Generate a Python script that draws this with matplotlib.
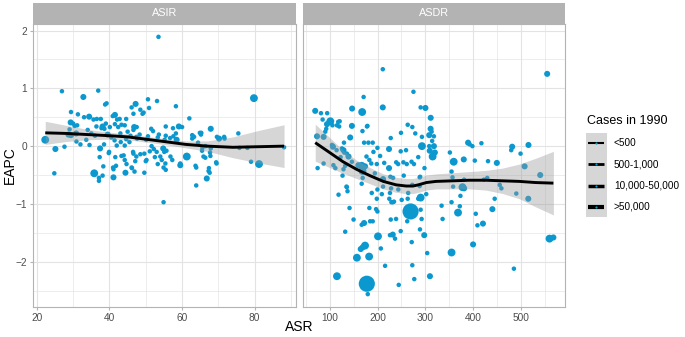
import matplotlib
matplotlib.use("Agg")
import matplotlib.pyplot as plt
from matplotlib.patches import Rectangle

plt.rcParams["font.family"] = ["Liberation Sans", "DejaVu Sans"]

# ---- data (x = ASR, y = EAPC, s = size class) ----
asir_x = [53.5, 26.9, 36.9, 32.8, 50.6, 53.1, 79.8, 38.8, 39.2, 58.3, 47.2, 46.1, 48.5, 49.4, 50.9,
          29.4, 31.3, 41.5, 46.6, 49.1, 62.0, 33.0, 34.4, 35.6, 36.5, 37.6, 40.9, 42.1, 42.8, 44.6,
          29.3, 30.0, 30.4, 31.1, 39.0, 38.1, 38.6, 40.1, 41.5, 42.4, 43.3, 44.2, 36.4, 37.8, 46.8,
          47.5, 46.6, 55.5, 57.5, 59.1, 60.0, 67.9, 75.5, 64.9, 65.2, 62.8, 63.3, 62.8, 69.6, 70.2,
          71.6, 58.3, 57.6, 56.7, 58.5, 55.5, 55.2, 53.6, 53.3, 50.6, 50.1, 48.3, 47.4, 47.6, 29.0,
          28.7, 29.4, 30.8, 22.3, 25.1, 27.6, 32.0, 30.9, 34.5, 33.6, 37.4, 38.5, 42.0, 43.1, 41.4,
          44.6, 45.5, 44.2, 51.6, 52.2, 53.0, 54.8, 55.7, 61.3, 65.6, 66.5, 67.9, 67.7, 75.8, 78.0,
          79.0, 81.2, 88.1, 37.3, 39.8, 43.9, 41.6, 46.6, 48.5, 49.6, 54.0, 54.4, 56.8, 57.3, 59.5,
          65.9, 69.4, 63.7, 24.8, 35.8, 37.1, 37.1, 38.1, 41.1, 41.1, 41.8, 44.4, 44.7, 46.2, 46.9,
          49.6, 47.1, 50.0, 53.3, 54.9, 55.5, 55.4, 54.9, 59.5, 63.9, 63.9, 66.8, 67.4, 67.6, 69.5,
          67.3, 66.4, 67.8, 65.5, 65.3, 63.0, 64.4, 71.7, 35.0, 36.0, 39.5, 40.5, 43.0, 45.0, 34.0,
          52.0, 51.5, 45.8, 38.3, 39.9, 41.0, 43.3, 44.2, 46.1, 46.5, 47.4, 50.2, 51.1, 52.5, 55.1]
asir_y = [1.89, 0.95, 0.96, 0.85, 0.81, 0.78, 0.83, 0.72, 0.74, 0.69, 0.73, 0.67, 0.63, 0.58, 0.66,
          0.59, 0.55, 0.54, 0.56, 0.56, 0.48, 0.50, 0.51, 0.46, 0.47, 0.47, 0.52, 0.46, 0.47, 0.47,
          0.41, 0.39, 0.35, 0.36, 0.39, 0.34, 0.30, 0.33, 0.38, 0.33, 0.37, 0.36, 0.34, 0.31, 0.33,
          0.33, 0.28, 0.34, 0.31, 0.34, 0.33, 0.30, 0.22, 0.23, 0.20, 0.19, 0.16, 0.13, 0.16, 0.13,
          0.16, 0.22, 0.17, 0.14, 0.11, 0.18, 0.11, 0.20, 0.15, 0.17, 0.11, 0.20, 0.16, 0.13, 0.29,
          0.20, 0.19, 0.22, 0.11, -0.05, -0.01, 0.03, 0.08, 0.02, 0.11, -0.04, 0.03, 0.01, 0.07, 0.10,
          0.12, 0.07, 0.01, 0.00, -0.05, -0.10, -0.04, -0.08, -0.18, -0.03, 0.00, -0.04, -0.11, -0.03, -0.03,
          -0.27, -0.31, -0.02, -0.19, -0.12, -0.16, -0.19, -0.13, -0.14, -0.13, -0.18, -0.24, -0.18, -0.24, -0.30,
          -0.18, -0.28, -0.34, -0.47, -0.47, -0.55, -0.60, -0.51, -0.54, -0.40, -0.34, -0.46, -0.31, -0.38, -0.44,
          -0.46, -0.26, -0.26, -0.31, -0.37, -0.41, -0.30, -0.97, -0.33, -0.37, -0.68, -0.56, -0.38, -0.46, -0.30,
          -0.43, -0.20, -0.17, -0.08, 0.23, 0.17, 0.06, 0.13, 0.22, 0.18, 0.20, 0.15, 0.22, 0.25, 0.28,
          0.26, 0.30, 0.18, -0.35, -0.10, -0.37, -0.17, -0.24, -0.37, -0.10, -0.18, -0.24, -0.09, -0.19, -0.10]
asir_s = [0, 0, 0, 1, 0, 0, 2, 0, 0, 0, 1, 0, 0, 0, 0,
          0, 0, 1, 0, 0, 0, 0, 1, 0, 0, 0, 0, 0, 0, 0,
          1, 0, 0, 0, 0, 1, 0, 0, 0, 0, 0, 0, 0, 0, 1,
          0, 0, 0, 0, 1, 0, 1, 0, 0, 0, 0, 0, 0, 0, 1,
          0, 0, 0, 0, 1, 0, 0, 0, 0, 0, 0, 0, 0, 0, 0,
          1, 1, 1, 2, 1, 0, 0, 0, 0, 0, 1, 0, 0, 0, 0,
          0, 0, 0, 0, 0, 0, 1, 0, 2, 0, 0, 0, 0, 0, 0,
          0, 2, 0, 0, 0, 0, 0, 0, 0, 0, 0, 0, 0, 0, 0,
          0, 0, 0, 0, 2, 0, 0, 0, 1, 0, 0, 1, 0, 0, 0,
          0, 0, 0, 0, 0, 0, 0, 0, 1, 0, 0, 1, 0, 0, 0,
          0, 0, 0, 0, 0, 0, 0, 0, 0, 0, 1, 0, 0, 0, 0,
          0, 0, 0, 0, 0, 0, 0, 0, 0, 0, 0, 0, 0, 0, 0]

asdr_x = [211, 554, 275, 171, 211, 290, 300, 70, 82, 95, 147, 168, 311, 85.5, 101.5,
          94.6, 115.4, 121, 146.6, 179, 168.6, 263, 272.6, 249, 278.8, 310.8, 312.9, 307.9, 317.7, 292.7,
          143, 93, 91, 73.8, 87.5, 227.6, 172, 190, 199.8, 224, 248.4, 259.5, 292.7, 307.9, 317.7,
          309, 319.7, 315, 285, 351, 359, 380, 389, 392.5, 398, 416.8, 403, 430.6, 449, 481,
          479, 498.5, 515, 507, 205.4, 191.5, 129, 125.8, 130.6, 136, 139.5, 146.6, 107, 105, 87.5,
          160, 167, 174, 224, 183, 181, 75, 118, 120, 106, 178, 130, 314, 298, 288,
          177, 114.6, 127, 122.9, 168.6, 127, 135.3, 194.4, 211.6, 226.8, 232.4, 211.6, 254.7, 272.6, 289,
          288, 108, 112, 129, 132.6, 136, 137.4, 118.7, 141.6, 150, 132.6, 115.4, 157, 165, 169,
          174, 182.5, 177.7, 179.7, 167, 172, 184.6, 190, 183, 197, 199.8, 167, 169, 188, 199.8,
          201, 207, 215.8, 227.6, 238.7, 226, 231.8, 236.6, 248.4, 244.3, 226, 234.4, 224.6, 198.5, 209,
          228.3, 243.4, 250.5, 269, 262, 271.4, 272.6, 276.7, 290, 292, 288.6, 297.5, 303.7, 309.4, 285,
          290, 264, 263, 333.7, 335.8, 354.5, 357.8, 356.5, 368, 371.7, 377.3, 354.5, 405, 408.5, 420,
          399.4, 439.7, 444.5, 455, 458.5, 489.6, 514.6, 484.6, 558.9, 567, 539.5, 354.5, 380.7, 380.7, 422,
          429, 373, 301.7, 229, 232, 187, 198.5, 214, 239, 243, 254, 261, 271, 276]
asdr_y = [1.33, 1.25, 0.94, 0.85, 0.67, 0.67, 0.66, 0.61, 0.57, 0.57, 0.65, 0.59, 0.49, 0.46, 0.43,
          0.38, 0.36, 0.43, 0.35, 0.35, 0.26, 0.37, 0.33, 0.23, 0.22, 0.30, 0.25, 0.19, 0.17, 0.16,
          0.15, 0.30, 0.25, 0.17, 0.16, 0.14, 0.06, 0.06, -0.03, -0.05, -0.09, -0.07, 0.00, 0.00, 0.00,
          -0.08, -0.11, -0.18, -0.19, -0.11, -0.27, -0.23, 0.06, 0.03, 0.00, 0.05, -0.25, -0.26, -0.29, -0.01,
          -0.07, -0.13, 0.02, -0.35, -0.17, -0.10, -0.07, -0.04, -0.11, -0.13, -0.18, -0.27, -0.01, 0.02, -0.30,
          -0.33, -0.34, -0.35, -0.38, -0.24, 0.06, -0.38, 0.42, 0.34, 0.36, 0.34, 0.06, 0.09, -0.38, -0.54,
          -0.18, -0.07, -0.06, -0.19, -0.43, -0.51, -0.70, -0.47, -0.57, -0.53, -0.55, -0.70, -0.51, -0.67, -0.53,
          -0.69, -0.33, -0.38, -0.40, -0.34, -0.71, -0.78, -0.84, -1.07, -1.27, -1.48, -2.25, -1.93, -1.78, -1.75,
          -1.72, -1.91, -2.38, -2.56, -1.36, -1.33, -1.30, -1.30, -1.07, -1.09, -1.13, -0.65, -0.55, -0.81, -0.75,
          -1.56, -1.77, -2.07, -1.27, -1.26, -1.54, -1.53, -1.60, -1.47, -2.40, -0.81, -0.96, -0.91, -0.91, -0.83,
          -0.73, -0.75, -0.93, -1.13, -1.30, -1.66, -2.06, -2.30, -1.10, -1.26, -1.44, -1.54, -1.85, -2.25, -0.91,
          -0.89, -0.81, -0.91, -1.03, -1.26, -0.97, -0.70, -0.54, -1.15, -1.04, -0.71, -1.84, -1.17, -1.37, -1.34,
          -1.70, -1.09, -0.91, -0.67, -0.73, -0.82, -0.91, -2.12, -1.60, -1.58, -0.50, -0.44, -0.58, -0.73, -0.58,
          -0.55, -0.86, -0.83, -0.97, -0.97, -0.30, -0.31, -0.29, -0.28, -0.31, -0.28, -0.31, -0.27, -0.31]
asdr_s = [0, 1, 0, 0, 1, 0, 1, 1, 0, 0, 1, 2, 1, 0, 2,
          1, 0, 0, 1, 0, 0, 0, 0, 0, 0, 1, 0, 1, 0, 0,
          1, 0, 0, 1, 1, 0, 0, 0, 0, 1, 0, 0, 2, 0, 1,
          1, 1, 2, 0, 0, 2, 1, 1, 0, 0, 0, 0, 0, 1, 1,
          0, 0, 1, 1, 0, 0, 1, 0, 0, 0, 1, 0, 1, 0, 0,
          1, 2, 1, 1, 0, 0, 0, 0, 0, 0, 0, 0, 0, 0, 0,
          0, 0, 0, 0, 2, 0, 0, 0, 1, 0, 0, 0, 0, 0, 0,
          0, 0, 0, 0, 0, 0, 0, 0, 0, 0, 0, 2, 2, 1, 1,
          2, 2, 3, 0, 0, 1, 0, 0, 0, 0, 0, 0, 0, 0, 0,
          2, 0, 0, 0, 0, 0, 1, 0, 0, 0, 0, 0, 0, 0, 0,
          0, 0, 0, 3, 0, 0, 0, 0, 0, 0, 0, 1, 0, 1, 0,
          2, 0, 0, 0, 0, 0, 0, 0, 2, 0, 2, 2, 0, 0, 1,
          1, 1, 0, 0, 0, 0, 1, 0, 2, 1, 1, 0, 0, 1, 0,
          0, 0, 0, 0, 0, 0, 0, 0, 0, 0, 0, 0, 0, 0]

# loess fit and 95% band
asir_fit_x = [22.3, 28, 34, 40, 45, 50, 55, 61, 67, 74, 81, 88.1]
asir_fit_y = [0.23, 0.22, 0.20, 0.18, 0.16, 0.12, 0.08, 0.03, 0.0, -0.02, -0.01, 0.0]
asir_band = [0.20, 0.14, 0.09, 0.06, 0.05, 0.05, 0.05, 0.06, 0.09, 0.18, 0.28, 0.37]

asdr_fit_x = [70, 100, 128, 156, 184, 212, 239, 260, 274, 285, 302, 322, 357, 392, 426, 461, 496, 530, 567]
asdr_fit_y = [0.06, -0.11, -0.27, -0.40, -0.51, -0.61, -0.67, -0.69, -0.69, -0.67, -0.63, -0.61,
              -0.60, -0.59, -0.59, -0.60, -0.61, -0.63, -0.64]
asdr_band = [0.32, 0.26, 0.20, 0.16, 0.14, 0.13, 0.13, 0.13, 0.13, 0.13, 0.13, 0.13,
             0.14, 0.15, 0.17, 0.22, 0.30, 0.42, 0.55]

panels = ["ASIR", "ASDR"]
size_labels = ["<500", "500-1,000", "10,000-50,000", ">50,000"]
size_area = [10.5, 19, 32, 135]
key_widths = [1.5, 2.0, 2.5, 3.0]

BLUE = "#0A98CF"
GRID = "#E3E3E3"
BORDER = "#B3B3B3"

fig = plt.figure(figsize=(6.85, 3.37), dpi=100)
W, H = 685, 337
bottom = 1 - 307 / H
height = (307 - 24) / H
lefts = [33.3, 303.3]
widths = [262.7, 262.0]

all_y = asir_y + asdr_y
ypad = 0.05 * (max(all_y) - min(all_y))
ylim = (min(all_y) - ypad, max(all_y) + ypad)

data = [(asir_x, asir_y, asir_s), (asdr_x, asdr_y, asdr_s)]
fits = [(asir_fit_x, asir_fit_y, asir_band), (asdr_fit_x, asdr_fit_y, asdr_band)]
xticks = [[20, 40, 60, 80], [100, 200, 300, 400, 500]]
xminor = [[30, 50, 70, 90], [50, 150, 250, 350, 450, 550]]

for i, name in enumerate(panels):
    xs, ys, ss = data[i]
    fx, fy, fb = fits[i]
    ax = fig.add_axes([lefts[i] / W, bottom, widths[i] / W, height])
    xpad = 0.05 * (max(xs) - min(xs))
    ax.set_xlim(min(xs) - xpad, max(xs) + xpad)
    ax.set_ylim(*ylim)

    ax.set_xticks(xticks[i])
    ax.set_xticks(xminor[i], minor=True)
    ax.set_yticks([-2, -1, 0, 1, 2])
    ax.set_yticks([-2.5, -1.5, -0.5, 0.5, 1.5], minor=True)
    ax.grid(True, which="major", color=GRID, lw=0.8)
    ax.grid(True, which="minor", color=GRID, lw=0.45)
    ax.set_axisbelow(True)
    for sp in ax.spines.values():
        sp.set_color(BORDER)
        sp.set_linewidth(0.8)
    ax.tick_params(which="major", length=2.5, color=BORDER, labelsize=7.3,
                   labelcolor="#4D4D4D", pad=2)
    ax.tick_params(which="minor", length=0)
    if i == 1:
        ax.tick_params(axis="y", which="both", left=False, labelleft=False)

    ax.scatter(xs, ys, s=[size_area[k] for k in ss], color=BLUE, linewidths=0, zorder=2)

    lo = [m - b for m, b in zip(fy, fb)]
    hi = [m + b for m, b in zip(fy, fb)]
    ax.fill_between(fx, lo, hi, color="#999999", alpha=0.4, lw=0, zorder=3)
    ax.plot(fx, fy, color="black", lw=2.1, zorder=4, solid_capstyle="butt",
            solid_joinstyle="round")

    strip = fig.add_axes([lefts[i] / W, 1 - 23.6 / H, widths[i] / W, 20.8 / H])
    strip.set_facecolor(BORDER)
    strip.set_xticks([])
    strip.set_yticks([])
    for sp in strip.spines.values():
        sp.set_visible(False)
    strip.text(0.5, 0.5, name, color="white", fontsize=7.8, ha="center", va="center",
               transform=strip.transAxes)

fig.text(299.3 / W, 1 - 327 / H, "ASR", fontsize=10, ha="center", va="center")
fig.text(10 / W, 1 - 165.5 / H, "EAPC", fontsize=10, ha="center", va="center", rotation=90)

# legend drawn in a pixel-space overlay
leg = fig.add_axes([0, 0, 1, 1])
leg.set_xlim(0, W)
leg.set_ylim(H, 0)
leg.axis("off")
leg.patch.set_alpha(0)
leg.text(587, 120.5, "Cases in 1990", fontsize=9, va="center", ha="left")
leg.add_patch(Rectangle((586, 133.3), 20.7, 84, facecolor="#D6D6D6", edgecolor="none"))
for k, (lab, lw) in enumerate(zip(size_labels, key_widths)):
    yk = 143 + k * 21.3
    leg.plot([588.5, 604.5], [yk, yk], color="black", lw=lw, solid_capstyle="butt")
    leg.scatter([596.5], [yk], s=2.5, color=BLUE, linewidths=0, zorder=5)
    leg.text(614, yk, lab, fontsize=7.2, va="center", ha="left")

fig.savefig("out.png", dpi=100)
